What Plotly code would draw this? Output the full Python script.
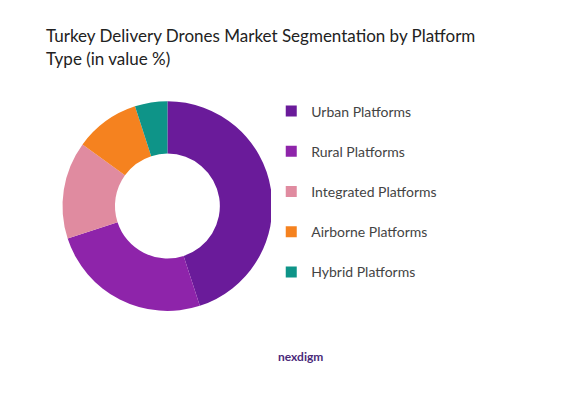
import plotly.graph_objects as go

platforms = ["Urban Platforms", "Rural Platforms", "Integrated Platforms",
             "Airborne Platforms", "Hybrid Platforms"]
shares = [45, 25, 15, 10, 5]
colors = ["#6A1B9A", "#8E24AA", "#E08BA0", "#F5821F", "#0E9488"]

fig = go.Figure(go.Pie(
    labels=platforms, values=shares, hole=0.5, sort=False,
    direction="clockwise", rotation=0, showlegend=False,
    marker=dict(colors=colors), textinfo="none",
    domain=dict(x=[0.093, 0.452], y=[0.252, 0.77]),
))

# legend entries as separate groups so they can be spaced out like the reference
for name, col in zip(platforms, colors):
    fig.add_trace(go.Scatter(
        x=[None], y=[None], mode="markers", name=name, legendgroup=name,
        marker=dict(symbol="square", size=11, color=col),
    ))

fig.update_layout(
    width=585, height=405,
    paper_bgcolor="white", plot_bgcolor="white",
    margin=dict(l=0, r=0, t=0, b=0),
    xaxis=dict(visible=False), yaxis=dict(visible=False),
    font=dict(family="Lato, Open Sans, sans-serif", color="#333"),
    title=dict(text="Turkey Delivery Drones Market Segmentation by Platform<br>Type (in value %)",
               x=0.065, y=0.915, xanchor="left", yanchor="top",
               font=dict(size=17, color="#222")),
    legend=dict(x=0.45, y=0.784, xanchor="left", yanchor="top",
                font=dict(size=14, color="#444"), tracegroupgap=19,
                itemwidth=30),
    annotations=[dict(text="<b>nexdigm</b>", x=0.5, y=0.115, xref="paper", yref="paper",
                      showarrow=False, font=dict(size=12, color="#4A2A7A"))],
)

fig.write_html("out.html")
